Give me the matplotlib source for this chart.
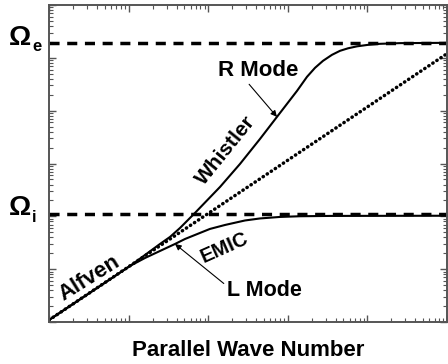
import matplotlib
matplotlib.use("Agg")
import matplotlib.pyplot as plt
from matplotlib.ticker import LogLocator, NullFormatter

plt.rcParams["font.family"] = ["Liberation Sans", "DejaVu Sans"]
plt.rcParams["font.weight"] = "bold"

# cyclotron frequencies (arbitrary units)
omega_i = 111
omega_e = 1.92e5

# Alfven line
k_alf = [1, 1e5]
w_alf = [1.09, 1.2e5]

# R mode (Alfven -> whistler -> electron cyclotron)
k_r = [1, 4.38, 10.4, 16.1, 24.8, 33.1, 44.3, 54.2, 68.2, 141, 251, 448,
       731, 1306, 1742, 2198, 2767, 3589, 4529, 5702, 7396, 10190, 14390,
       25700, 1e5]
w_r = [1.09, 4.81, 11.5, 18.6, 30.0, 40.7, 60.3, 81.8, 116, 361, 982, 2924,
       7630, 23700, 43700, 64700, 87700, 114000, 135800, 151400, 165000,
       176200, 184200, 189800, 192300]

# L mode (Alfven -> EMIC -> ion cyclotron)
k_l = [1, 4.38, 10.4, 16.1, 24.8, 38.3, 51.2, 68.2, 105, 163, 290, 448,
       798, 1422, 3388, 1e5]
w_l = [1.09, 4.81, 11.5, 16.3, 22.1, 30.0, 37.3, 44.4, 57.7, 68.7, 83.5,
       91.2, 97.4, 100.4, 101.8, 102.6]

W, H = 448, 364
L0, R0, T0, B0 = 49, 447, 5, 322

fig = plt.figure(figsize=(W / 100, H / 100), dpi=100)
ax = fig.add_axes([L0 / W, 1 - B0 / H, (R0 - L0) / W, (B0 - T0) / H])
ax.set_xscale("log")
ax.set_yscale("log")
ax.set_xlim(1, 1e5)
ax.set_ylim(1, 1e6)


def px(x, y):
    # pixel position of the reference picture -> axes fraction
    return (x - L0) / (R0 - L0), (B0 - y) / (B0 - T0)


ax.axhline(omega_e, color="black", lw=2.5, ls=(0, (2.9, 2.2)))
ax.axhline(omega_i, color="black", lw=2.5, ls=(0, (2.9, 2.2)))
ax.plot(k_alf, w_alf, color="black", lw=2.5, ls=(0, (0.1, 1.3)),
        dash_capstyle="round")
ax.plot(k_r, w_r, color="black", lw=1.5, solid_joinstyle="round")
ax.plot(k_l, w_l, color="black", lw=1.5, solid_joinstyle="round")

for loc in ax.xaxis, ax.yaxis:
    loc.set_major_locator(LogLocator(base=10, numticks=20))
    loc.set_minor_locator(LogLocator(base=10, subs=range(2, 10), numticks=20))
    loc.set_major_formatter(NullFormatter())
    loc.set_minor_formatter(NullFormatter())
ax.tick_params(which="both", direction="in", top=True, right=True,
               color="#555555")
ax.tick_params(which="major", length=5, width=1)
ax.tick_params(which="minor", length=3, width=0.8)
for sp in ax.spines.values():
    sp.set_color("#555555")
    sp.set_linewidth(1.4)

txt = dict(transform=ax.transAxes, ha="center", va="center",
           fontweight="bold", color="black")
ax.text(*px(89, 278), "Alfven", rotation=32, fontsize=16, **txt)
ax.text(*px(226, 150), "Whistler", rotation=51, fontsize=15, **txt)
ax.text(*px(224, 248), "EMIC", rotation=24, fontsize=14.5, **txt)

arrow = dict(arrowstyle="-|>", color="black", lw=0.8, mutation_scale=9,
             shrinkA=0, shrinkB=0)
ax.annotate("R Mode", xy=(k_r[12], w_r[12]), xycoords="data",
            xytext=px(258, 71), textcoords="axes fraction",
            ha="center", va="center", fontsize=16, fontweight="bold",
            arrowprops=dict(arrow, relpos=(0.36, 0.0)))
ax.annotate("L Mode", xy=(k_l[5], w_l[5]), xycoords="data",
            xytext=px(264, 291), textcoords="axes fraction",
            ha="center", va="center", fontsize=15.5, fontweight="bold",
            arrowprops=dict(arrow, relpos=(0.0, 0.75)))

# Omega labels outside the left axis
fig.text(9 / W, 1 - 45 / H, "Ω", fontsize=20, fontweight="bold",
         ha="left", va="baseline")
fig.text(32 / W, 1 - 51 / H, "e", fontsize=12, fontweight="bold",
         ha="left", va="baseline")
fig.text(9 / W, 1 - 215 / H, "Ω", fontsize=20, fontweight="bold",
         ha="left", va="baseline")
fig.text(32 / W, 1 - 222 / H, "i", fontsize=12, fontweight="bold",
         ha="left", va="baseline")

fig.text(248 / W, 1 - 350 / H, "Parallel Wave Number", fontsize=16,
         fontweight="bold", ha="center", va="center")

fig.savefig("out.png", dpi=100)
plt.close(fig)
